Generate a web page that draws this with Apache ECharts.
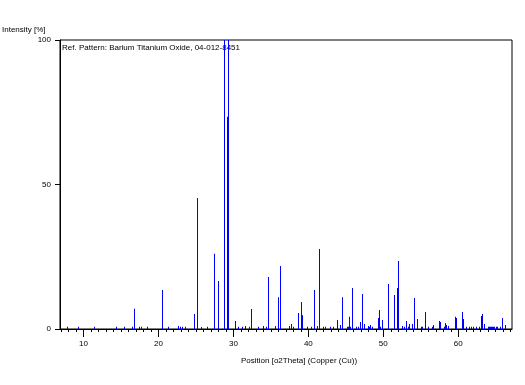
<!DOCTYPE html>
<html>
<head>
<meta charset="utf-8">
<script src="https://cdn.jsdelivr.net/npm/echarts@6/dist/echarts.min.js"></script>
<style>html,body{margin:0;padding:0;background:#fff}#c{width:525px;height:385px}</style>
</head>
<body>
<div id="c"></div>
<script>
// 2Theta positions (degrees) and relative intensities (%)
var positions = [7.84, 9.3, 11.44, 14.4, 15.44, 16.5, 16.77, 17.37, 17.64, 18.5, 20.5, 21.3, 22.64, 22.9, 23.17, 23.57, 24.77, 25.17, 25.7, 26.5, 27.44, 27.97, 28.77, 29.1, 29.24, 30.24, 30.64, 31.2, 31.6, 32.1, 32.37, 33.3, 34.0, 34.4, 34.64, 35.5, 35.97, 36.24, 37.44, 37.7, 37.97, 38.64, 39.04, 39.17, 39.84, 40.37, 40.77, 41.17, 41.44, 41.97, 42.24, 42.9, 43.3, 43.84, 44.24, 44.5, 45.2, 45.3, 45.44, 45.6, 45.84, 46.37, 46.64, 46.9, 47.17, 47.44, 47.97, 48.1, 48.24, 48.5, 49.3, 49.44, 49.57, 49.84, 50.64, 51.44, 51.84, 51.97, 52.5, 52.77, 53.04, 53.3, 53.44, 53.84, 54.1, 54.5, 55.04, 55.17, 55.57, 55.97, 56.5, 56.64, 57.44, 57.57, 58.1, 58.24, 58.37, 58.64, 59.57, 59.7, 60.5, 60.64, 61.04, 61.44, 61.7, 61.97, 62.37, 62.77, 63.04, 63.17, 63.44, 63.97, 64.1, 64.24, 64.37, 64.5, 64.64, 64.77, 65.04, 65.17, 65.57, 65.84, 66.24];
var intensities = [0.8, 0.8, 0.8, 0.8, 0.8, 0.8, 7.0, 0.8, 0.8, 0.8, 13.5, 0.8, 1.0, 0.8, 0.8, 0.8, 5.2, 45.3, 0.7, 0.8, 26.0, 16.6, 100, 73.4, 100, 2.8, 0.8, 0.8, 1.0, 0.8, 6.9, 0.8, 1.0, 0.8, 18.0, 1.0, 11.0, 21.8, 1.0, 1.7, 0.8, 5.5, 9.3, 4.8, 0.8, 0.8, 13.5, 1.0, 27.7, 0.8, 0.8, 0.8, 0.8, 3.1, 1.4, 11.0, 0.8, 0.8, 4.2, 0.8, 14.2, 0.8, 0.8, 2.4, 12.1, 1.7, 1.0, 0.8, 1.4, 0.8, 3.8, 6.6, 0.8, 3.1, 15.6, 11.8, 14.2, 23.5, 1.0, 0.8, 2.8, 0.8, 1.7, 1.7, 10.7, 3.5, 0.8, 0.8, 5.9, 0.8, 0.8, 1.4, 2.8, 2.4, 0.8, 2.1, 1.4, 1.0, 4.2, 3.8, 5.9, 3.5, 0.8, 0.8, 0.8, 0.8, 0.8, 0.8, 4.5, 5.2, 1.7, 0.8, 0.8, 0.8, 0.8, 0.8, 0.8, 0.8, 0.8, 0.8, 0.8, 3.8, 1.4];
var xMajorTicks = [10, 20, 30, 40, 50, 60];
var xMinorTicks = [7, 8, 9, 10, 11, 12, 13, 14, 15, 16, 17, 18, 19, 20, 21, 22, 23, 24, 25, 26, 27, 28, 29, 30, 31, 32, 33, 34, 35, 36, 37, 38, 39, 40, 41, 42, 43, 44, 45, 46, 47, 48, 49, 50, 51, 52, 53, 54, 55, 56, 57, 58, 59, 60, 61, 62, 63, 64, 65, 66, 67];
var xMin = 6.87, xMax = 67.17;
var titleText = 'Ref. Pattern: Barium Titanium Oxide, 04-012-8451';
var yTitle = 'Intensity [%]';
var xTitle = 'Position [o2Theta] (Copper (Cu))';

var data = positions.map(function (p, i) { return [p, intensities[i]]; });
var FONT = 'Liberation Sans, Arial, sans-serif';

var chart = echarts.init(document.getElementById('c'), null, {renderer: 'canvas'});
chart.setOption({
  animation: false,
  backgroundColor: '#fff',
  grid: {left: 60, right: 13, top: 40, bottom: 56, show: true, borderColor: '#000', borderWidth: 1, backgroundColor: 'transparent'},
  xAxis: [{
    type: 'value', min: xMin, max: xMax, position: 'bottom',
    axisLine: {show: true, lineStyle: {color: '#000', width: 1}},
    axisTick: {show: true, customValues: xMinorTicks, length: 3, lineStyle: {color: '#000'}},
    axisLabel: {show: true, customValues: xMajorTicks, margin: 11, fontSize: 8, fontFamily: FONT, color: '#000'},
    splitLine: {show: false}
  }, {
    type: 'value', min: xMin, max: xMax, position: 'bottom', gridIndex: 0,
    axisLine: {show: false},
    axisTick: {show: true, customValues: xMajorTicks, length: 8, lineStyle: {color: '#000'}},
    axisLabel: {show: false},
    splitLine: {show: false}
  }],
  yAxis: {
    type: 'value', min: 0, max: 100, interval: 50,
    axisLine: {show: true, lineStyle: {color: '#000', width: 1}},
    axisTick: {show: true, length: 5, lineStyle: {color: '#000'}},
    axisLabel: {margin: 9, fontSize: 8, fontFamily: FONT, color: '#000'},
    splitLine: {show: false}
  },
  graphic: [
    {type: 'text', left: 2, top: 26, z: 0, style: {text: yTitle, font: '8px ' + FONT, fill: '#000'}},
    {type: 'text', left: 62, top: 44, z: 0, style: {text: titleText, font: '8px ' + FONT, fill: '#000'}},
    {type: 'text', left: 241, top: 357, z: 0, style: {text: xTitle, font: '8px ' + FONT, fill: '#000'}}
  ],
  series: [{
    type: 'custom',
    xAxisIndex: 0,
    clip: false,
    z: 5,
    data: data,
    renderItem: function (params, api) {
      var p0 = api.coord([api.value(0), 0]);
      var p1 = api.coord([api.value(0), api.value(1)]);
      var x = Math.round(p0[0]);
      return {type: 'rect', shape: {x: x, y: p1[1], width: 1, height: p0[1] - p1[1]}, style: {fill: '#0000ff', stroke: null, lineWidth: 0}};
    }
  }]
});
</script>
</body>
</html>
